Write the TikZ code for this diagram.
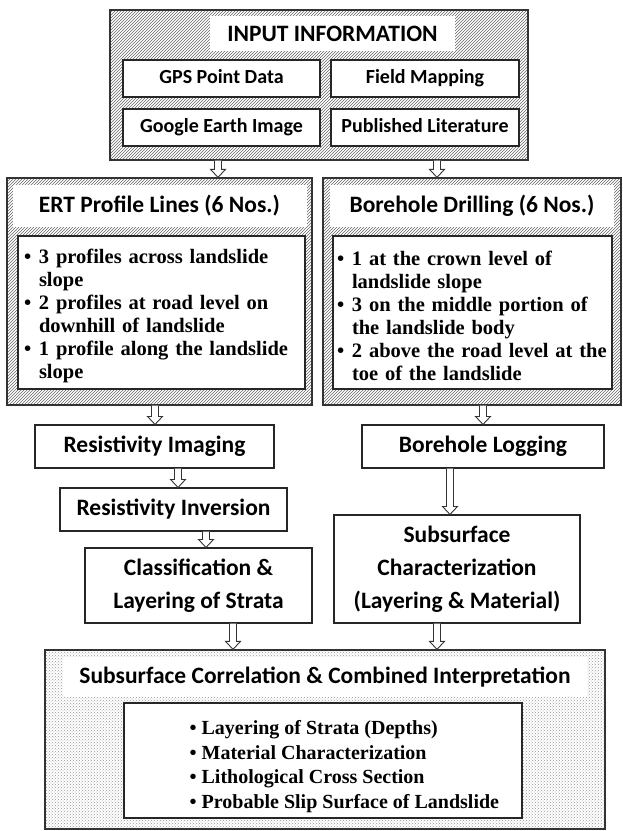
\documentclass[tikz,border=0pt]{standalone}
\usepackage{fontspec}
\setmainfont{Liberation Serif}
\newfontfamily\headfont{Carlito}
\usepackage{tikz}
\usetikzlibrary{patterns,calc}

\newcommand{\hdfont}{\headfont\bfseries\fontsize{23.5}{33}\selectfont}
\newcommand{\srcfont}{\headfont\bfseries\fontsize{20}{24}\selectfont}
\newcommand{\bull}{\makebox[15pt][l]{\textbullet}}
\newcommand{\cont}{\hspace*{15pt}}
\newcommand{\topgap}{\rule{0pt}{22pt}}
% hollow block arrow, straight down from #1 to #2
\newcommand{\flowto}[2]{%
  \draw[flowarrow] let \p1=(#1), \p2=(#2) in
    (\x1-3.5pt,\y1) -- (\x1-3.5pt,\y2+8pt) -- (\x1-7.5pt,\y2+8pt) -- (\x1,\y2)
    -- (\x1+7.5pt,\y2+8pt) -- (\x1+3.5pt,\y2+8pt) -- (\x1+3.5pt,\y1);}

\begin{document}
\begin{tikzpicture}[x=1pt, y=-1pt,
  hatchbox/.style={rectangle, draw=black!80, line width=1.3pt, pattern=north east lines, pattern color=black!60, inner sep=0pt},
  dotbox/.style={rectangle, draw=black!80, line width=1.3pt, pattern=crosshatch dots, pattern color=black!40, inner sep=0pt},
  titleband/.style={rectangle, fill=white, inner sep=0pt, font=\hdfont},
  stepbox/.style={rectangle, draw=black!85, line width=1.1pt, fill=white, align=center, inner sep=2pt, font=\hdfont},
  srcbox/.style={stepbox, minimum width=197, minimum height=37, text height=14pt, text depth=4pt, font=\srcfont},
  listbox/.style={rectangle, draw=black!85, line width=1.1pt, fill=white, align=left, inner xsep=6pt, font=\bfseries\fontsize{20.5}{23}\selectfont},
  listtext/.style={align=left, inner sep=0pt, font=\bfseries\fontsize{20}{24.7}\selectfont},
  flowarrow/.style={draw=black!80, line width=0.9pt, fill=white}
]
\useasboundingbox (0,0) rectangle (623,831);

% input block
\node[hatchbox, minimum width=418, minimum height=150] (input) at (319,85) {};
\node[titleband, minimum width=245, minimum height=35] (inputtitle) at (332.5,33.5) {INPUT INFORMATION};
\node[srcbox] (gps) at (221.5,78.5) {GPS Point Data};
\node[srcbox, minimum width=188] (field) at (425,78.5) {Field Mapping};
\node[srcbox] (google) at (221.5,127.5) {Google Earth Image};
\node[srcbox, minimum width=188] (literature) at (425,127.5) {Published Literature};

% ERT branch
\node[hatchbox, minimum width=305, minimum height=227] (ert) at (159.5,291.5) {};
\node[titleband, minimum width=294, minimum height=42] (erttitle) at (159.5,206) {ERT Profile Lines (6 Nos.)};
\node[listbox, text width=275, minimum width=287, minimum height=153] (ertlist) at (161.5,312.5)
  {\topgap\bull 3 profiles across landslide\\\cont slope\\
   \bull 2 profiles at road level on\\\cont downhill of landslide\\
   \bull 1 profile along the landslide\\\cont slope};
\node[stepbox, minimum width=239, minimum height=43] (rimaging) at (154.5,446.5) {Resistivity Imaging};
\node[stepbox, minimum width=227, minimum height=43] (rinversion) at (173.5,509.5) {Resistivity Inversion};
\node[stepbox, minimum width=227, minimum height=75] (classify) at (198.5,585.5) {Classification \&\\Layering of Strata};

% borehole branch
\node[hatchbox, minimum width=298, minimum height=227] (bore) at (472,291.5) {};
\node[titleband, minimum width=284, minimum height=42] (boretitle) at (472,206) {Borehole Drilling (6 Nos.)};
\node[listbox, text width=271, inner xsep=4pt, minimum width=279, minimum height=153] (borelist) at (472.5,312.5)
  {\topgap\bull 1 at the crown level of\\\cont landslide slope\\
   \bull 3 on the middle portion of\\\cont the landslide body\\
   \bull 2 above the road level at the\\\cont toe of the landslide};
\node[stepbox, minimum width=242, minimum height=43] (logging) at (483,446.5) {Borehole Logging};
\node[stepbox, minimum width=246, minimum height=108] (subchar) at (457,569) {Subsurface\\Characterization\\(Layering \& Material)};

% combined result
\node[dotbox, minimum width=560, minimum height=179] (combined) at (325,739.5) {};
\node[titleband, minimum width=524, minimum height=40] (combtitle) at (325,677) {Subsurface Correlation \& Combined Interpretation};
\node[listbox, minimum width=398, minimum height=115] (comblist) at (323,760.5) {};
\node[listtext, anchor=west] (combitems) at ([xshift=66pt,yshift=-6pt]comblist.west)
  {\textbullet\ Layering of Strata (Depths)\\
   \textbullet\ Material Characterization\\
   \textbullet\ Lithological Cross Section\\
   \textbullet\ Probable Slip Surface of Landslide};

% arrows
\flowto{[xshift=-101pt]input.south}{ert.north}
\flowto{[xshift=118pt]input.south}{bore.north}
\flowto{[xshift=-4.5pt]ert.south}{rimaging.north}
\flowto{[xshift=23.5pt]rimaging.south}{rinversion.north}
\flowto{[xshift=32.5pt]rinversion.south}{classify.north}
\flowto{[xshift=34.5pt]classify.south}{combined.north}
\flowto{[xshift=11pt]bore.south}{logging.north}
\flowto{[xshift=-33pt]logging.south}{subchar.north}
\flowto{[xshift=-20pt]subchar.south}{combined.north}
\end{tikzpicture}
\end{document}
